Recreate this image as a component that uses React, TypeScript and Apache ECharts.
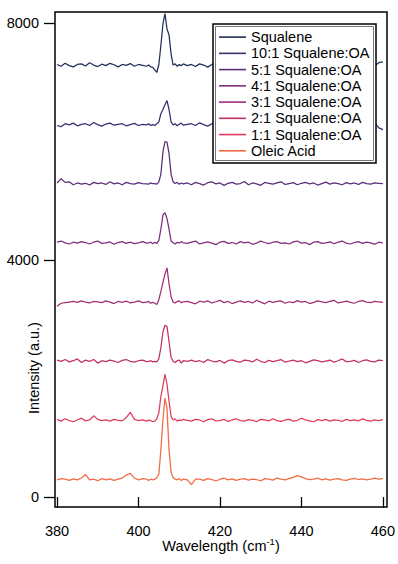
import React, { useEffect, useRef } from "react";
import * as echarts from "echarts";

// Raman shift axis (cm^-1): 1 cm^-1 steps, 0.5 cm^-1 around the peak
const wavelengths = [
  380, 381, 382, 383, 384, 385, 386, 387, 388, 389, 390, 391, 392, 393, 394, 395, 396, 397, 398, 399, 400, 401, 402,
  402.5, 403, 403.5, 404, 404.5, 405, 405.5, 406, 406.5, 407, 407.5, 408, 408.5, 409, 409.5, 410, 410.5, 411,
  412, 413, 414, 415, 416, 417, 418, 419, 420, 421, 422, 423, 424, 425, 426, 427, 428, 429, 430, 431, 432, 433, 434,
  435, 436, 437, 438, 439, 440, 441, 442, 443, 444, 445, 446, 447, 448, 449, 450, 451, 452, 453, 454, 455, 456, 457,
  458, 459, 460,
];

const seriesNames = [
  "Squalene",
  "10:1 Squalene:OA",
  "5:1 Squalene:OA",
  "4:1 Squalene:OA",
  "3:1 Squalene:OA",
  "2:1 Squalene:OA",
  "1:1 Squalene:OA",
  "Oleic Acid",
];

// vertical offsets used to stack the spectra
const offsets = [7000, 6000, 5000, 4000, 3000, 2000, 1000, 0];

const colors = ["#1f2f57", "#35306f", "#5b2c7a", "#7f2d7c", "#a12e78", "#c42f6a", "#e03a5c", "#f26a45"];

const squalene = [
  300, 270, 320, 280, 260, 300, 310, 275, 330, 290, 265, 305, 280, 320, 295, 260, 300, 285, 315, 270, 300, 285, 270,
  290, 260, 250, 210, 165, 300, 620, 980, 1160, 900, 800, 480, 290, 310, 270, 300, 280, 310,
  280, 300, 265, 310, 290, 255, 300, 320, 280, 270, 305, 330, 275, 290, 310, 260, 295, 280, 320, 300, 270, 290, 310,
  285, 265, 300, 315, 280, 295, 260, 300, 320, 285, 275, 305, 290, 265, 310, 280, 300, 290, 270, 305, 285, 260, 300,
  280, 330, 345,
];

const sq10to1 = [
  270, 250, 300, 280, 310, 265, 290, 300, 270, 320, 285, 260, 295, 310, 275, 290, 300, 265, 285, 305, 270, 290, 280,
  300, 270, 285, 270, 300, 330, 470, 540, 620, 690, 540, 330, 280, 300, 265, 290, 310, 275,
  290, 300, 270, 315, 285, 260, 300, 290, 320, 275, 295, 265, 310, 280, 300, 330, 270, 290, 305, 260, 285, 300, 275,
  320, 290, 265, 300, 285, 310, 270, 295, 280, 305, 320, 275, 290, 260, 300, 285, 315, 280, 295, 270, 305, 290, 275,
  310, 230, 200,
];

const sq5to1 = [
  300, 370, 310, 320, 270, 300, 280, 295, 265, 310, 290, 300, 275, 320, 285, 300, 270, 310, 290, 280, 305, 290, 285,
  280, 300, 290, 290, 280, 320, 450, 820, 1000, 990, 800, 450, 320, 290, 310, 280, 300, 285,
  300, 270, 310, 290, 265, 305, 320, 285, 300, 260, 295, 310, 280, 290, 325, 270, 300, 285, 260, 310, 295, 280, 300,
  320, 275, 290, 305, 270, 295, 310, 285, 300, 265, 290, 315, 280, 300, 290, 270, 305, 285, 300, 275, 310, 290, 280,
  300, 295, 290,
];

const sq4to1 = [
  300, 320, 290, 270, 300, 285, 310, 295, 270, 300, 320, 280, 290, 305, 265, 295, 310, 280, 300, 275, 290, 310, 285,
  290, 300, 275, 300, 280, 330, 520, 760, 800, 700, 520, 320, 290, 270, 300, 285, 310, 290,
  280, 300, 320, 270, 290, 305, 285, 260, 300, 315, 280, 295, 270, 310, 290, 300, 265, 285, 320, 295, 275, 300, 310,
  280, 290, 270, 305, 320, 285, 295, 260, 300, 310, 280, 290, 305, 275, 300, 320, 285, 270, 295, 310, 280, 300, 290,
  265, 300, 290,
];

const sq3to1 = [
  220, 270, 280, 290, 300, 285, 310, 290, 275, 300, 295, 280, 310, 290, 265, 300, 285, 305, 275, 290, 310, 280, 290,
  300, 270, 285, 270, 250, 330, 470, 620, 760, 866, 600, 380, 290, 275, 300, 310, 280, 295,
  300, 280, 260, 305, 290, 310, 275, 295, 320, 280, 300, 265, 290, 310, 285, 300, 275, 320, 290, 260, 305, 285, 300,
  310, 270, 295, 280, 315, 290, 300, 265, 285, 310, 295, 280, 300, 320, 275, 290, 305, 285, 270, 300, 315, 290, 280,
  300, 295, 285,
];

const sq2to1 = [
  310, 290, 320, 280, 300, 330, 270, 310, 290, 320, 260, 300, 285, 310, 295, 270, 305, 320, 290, 275, 300, 310, 285,
  290, 300, 280, 290, 280, 330, 520, 780, 900, 880, 620, 360, 290, 270, 300, 310, 260, 300,
  290, 310, 285, 300, 270, 320, 295, 280, 305, 260, 300, 315, 290, 275, 310, 300, 280, 325, 290, 270, 305, 285, 300,
  320, 275, 295, 310, 285, 300, 265, 290, 315, 300, 280, 295, 310, 275, 300, 330, 285, 290, 305, 270, 300, 315, 290,
  280, 310, 300,
];

const sq1to1 = [
  310, 280, 320, 290, 270, 300, 330, 285, 300, 370, 310, 290, 300, 280, 310, 295, 285, 340, 430, 310, 290, 300, 280,
  300, 290, 270, 280, 320, 420, 700, 870, 1076, 900, 620, 360, 300, 320, 280, 300, 290, 310,
  295, 280, 310, 300, 270, 305, 320, 285, 290, 310, 275, 300, 320, 290, 280, 305, 295, 270, 310, 300, 285, 320, 290,
  275, 300, 310, 280, 295, 330, 300, 285, 270, 305, 290, 310, 280, 300, 295, 275, 310, 290, 300, 285, 320, 295, 280,
  300, 290, 305,
];

const oleicAcid = [
  290, 310, 300, 280, 305, 290, 320, 380, 290, 300, 275, 310, 290, 305, 280, 300, 320, 370, 400, 320, 290, 310, 300,
  280, 300, 290, 300, 330, 380, 800, 1300, 1670, 1500, 800, 420, 330, 300, 290, 310, 280, 300,
  290, 210, 300, 300, 280, 310, 295, 270, 300, 320, 290, 305, 280, 300, 310, 285, 300, 295, 270, 310, 300, 285, 320,
  300, 290, 310, 330, 360, 340, 310, 295, 300, 320, 290, 305, 285, 300, 310, 290, 280, 300, 315, 295, 305, 290, 300,
  320, 300, 310,
];

const spectra = [squalene, sq10to1, sq5to1, sq4to1, sq3to1, sq2to1, sq1to1, oleicAcid];

const xTicks = { min: 380, max: 460, interval: 20 };
const yTicks = { min: 0, max: 8000, interval: 4000 };

const FONT = "'Liberation Sans', Arial, Helvetica, sans-serif";

export default function App() {
  const ref = useRef<HTMLDivElement>(null);

  useEffect(() => {
    if (!ref.current) return;
    const chart = echarts.init(ref.current, undefined, { renderer: "svg" });

    const series = seriesNames.map((name, k) => ({
      name,
      type: "line",
      data: wavelengths.map((w, i) => [w, spectra[k][i] + offsets[k]]),
      symbol: "none",
      showSymbol: false,
      clip: false,
      lineStyle: { color: colors[k], width: 1.25 },
      itemStyle: { color: colors[k] },
      z: 2 + (seriesNames.length - k) * 0.01,
    }));

    chart.setOption({
      animation: false,
      backgroundColor: "#ffffff",
      grid: { left: 57, right: 12.3, top: 23, bottom: 67, containLabel: false },
      xAxis: {
        type: "value",
        min: xTicks.min,
        max: xTicks.max,
        interval: xTicks.interval,
        offset: 10,
        axisLine: { show: false },
        axisTick: { show: true, inside: false, length: 11, lineStyle: { color: "#000", width: 1.3 } },
        axisLabel: {
          margin: 16,
          color: "#000",
          fontSize: 14.5,
          fontFamily: FONT,
          formatter: (v: number) => String(v),
        },
        splitLine: { show: false },
      },
      yAxis: {
        type: "value",
        min: yTicks.min,
        max: yTicks.max,
        interval: yTicks.interval,
        offset: 2,
        axisLine: { show: false },
        axisTick: { show: true, inside: false, length: 11, lineStyle: { color: "#000", width: 1.3 } },
        axisLabel: {
          margin: 16,
          color: "#000",
          fontSize: 14.5,
          fontFamily: FONT,
          formatter: (v: number) => String(v),
        },
        splitLine: { show: false },
      },
      legend: {
        data: seriesNames,
        orient: "vertical",
        left: 219,
        top: 29,
        padding: 0,
        itemGap: 0,
        itemWidth: 27,
        itemHeight: 1.6,
        icon: "rect",
        selectedMode: false,
        z: 60,
        textStyle: { fontSize: 14.5, fontFamily: FONT, color: "#000", lineHeight: 16.24 },
      },
      graphic: [
        {
          type: "rect",
          z: 100,
          silent: true,
          shape: { x: 55, y: 12, width: 332, height: 495 },
          style: { fill: "none", stroke: "#000", lineWidth: 1.5 },
        },
        {
          type: "rect",
          z: 50,
          silent: true,
          shape: { x: 213, y: 24, width: 163, height: 139 },
          style: { fill: "#fff", stroke: "#000", lineWidth: 1.5 },
        },
        {
          type: "rect",
          z: 51,
          silent: true,
          shape: { x: 215.5, y: 26.5, width: 158, height: 134 },
          style: { fill: "none", stroke: "#555", lineWidth: 0.8 },
        },
        {
          type: "text",
          z: 100,
          x: 34,
          y: 368,
          rotation: Math.PI / 2,
          style: {
            text: "Intensity (a.u.)",
            fontSize: 14.5,
            fontFamily: FONT,
            fill: "#000",
            align: "center",
            verticalAlign: "middle",
            textAlign: "center",
            textVerticalAlign: "middle",
          },
        },
        {
          type: "text",
          z: 100,
          x: 221,
          y: 546,
          style: {
            text: "{a|Wavelength (cm}{b|-1}{a|)}",
            align: "center",
            verticalAlign: "middle",
            textAlign: "center",
            textVerticalAlign: "middle",
            fill: "#000",
            rich: {
              a: { fontSize: 14.5, fontFamily: FONT, fill: "#000", color: "#000" },
              b: { fontSize: 9.5, fontFamily: FONT, fill: "#000", color: "#000", padding: [0, 0, 10, 0] },
            },
          },
        },
      ],
      series,
    } as any);

    return () => chart.dispose();
  }, []);

  return (
    <div
      ref={ref}
      style={{ position: "fixed", left: 0, top: 0, width: 398, height: 564, background: "#fff" }}
    />
  );
}
